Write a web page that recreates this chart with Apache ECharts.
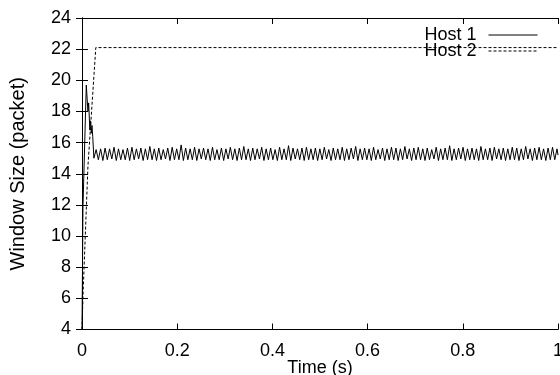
<!DOCTYPE html>
<html>
<head>
<meta charset="utf-8">
<script src="https://cdn.jsdelivr.net/npm/echarts@6/dist/echarts.min.js"></script>
<style>
html,body{margin:0;padding:0;background:#fff;}
#chart{width:560px;height:375px;}
</style>
</head>
<body>
<div id="chart"></div>
<script>
var seriesNames = ['Host 1', 'Host 2'];
var xTickValues = [0, 0.2, 0.4, 0.6, 0.8, 1];
var yTickValues = [4, 6, 8, 10, 12, 14, 16, 18, 20, 22, 24];

// Host 1: start-up transient
var host1StartTimes = [0, 0.002, 0.009, 0.0125, 0.014, 0.0165, 0.018, 0.0195, 0.021, 0.0225];
var host1StartValues = [4, 11.8, 19.7, 18.0, 18.55, 16.8, 17.4, 16.6, 17.1, 16.4];

// Host 1: steady oscillation (trough / peak samples)
var host1OscTimes = [
 0.0250,0.0297,0.0344,0.0391,0.0438,0.0485,0.0532,0.0579,0.0626,0.0673,
 0.0720,0.0767,0.0814,0.0861,0.0908,0.0955,0.1002,0.1049,0.1096,0.1143,
 0.1190,0.1237,0.1284,0.1331,0.1378,0.1425,0.1472,0.1519,0.1566,0.1613,
 0.1660,0.1707,0.1754,0.1801,0.1848,0.1895,0.1942,0.1989,0.2036,0.2083,
 0.2130,0.2177,0.2224,0.2271,0.2318,0.2365,0.2412,0.2459,0.2506,0.2553,
 0.2600,0.2647,0.2694,0.2741,0.2788,0.2835,0.2882,0.2929,0.2976,0.3023,
 0.3070,0.3117,0.3164,0.3211,0.3258,0.3305,0.3352,0.3399,0.3446,0.3493,
 0.3540,0.3587,0.3634,0.3681,0.3728,0.3775,0.3822,0.3869,0.3916,0.3963,
 0.4010,0.4057,0.4104,0.4151,0.4198,0.4245,0.4292,0.4339,0.4386,0.4433,
 0.4480,0.4527,0.4574,0.4621,0.4668,0.4715,0.4762,0.4809,0.4856,0.4903,
 0.4950,0.4997,0.5044,0.5091,0.5138,0.5185,0.5232,0.5279,0.5326,0.5373,
 0.5420,0.5467,0.5514,0.5561,0.5608,0.5655,0.5702,0.5749,0.5796,0.5843,
 0.5890,0.5937,0.5984,0.6031,0.6078,0.6125,0.6172,0.6219,0.6266,0.6313,
 0.6360,0.6407,0.6454,0.6501,0.6548,0.6595,0.6642,0.6689,0.6736,0.6783,
 0.6830,0.6877,0.6924,0.6971,0.7018,0.7065,0.7112,0.7159,0.7206,0.7253,
 0.7300,0.7347,0.7394,0.7441,0.7488,0.7535,0.7582,0.7629,0.7676,0.7723,
 0.7770,0.7817,0.7864,0.7911,0.7958,0.8005,0.8052,0.8099,0.8146,0.8193,
 0.8240,0.8287,0.8334,0.8381,0.8428,0.8475,0.8522,0.8569,0.8616,0.8663,
 0.8710,0.8757,0.8804,0.8851,0.8898,0.8945,0.8992,0.9039,0.9086,0.9133,
 0.9180,0.9227,0.9274,0.9321,0.9368,0.9415,0.9462,0.9509,0.9556,0.9603,
 0.9650,0.9697,0.9744,0.9791,0.9838,0.9885,0.9932,0.9979,1.0000
];
var host1OscValues = [
 15.0,15.55,14.9,15.6,14.85,15.65,14.9,15.6,14.95,15.7,
 14.85,15.6,14.9,15.55,14.9,15.65,14.85,15.7,14.9,15.6,
 14.95,15.65,14.85,15.6,14.9,15.75,14.9,15.6,14.85,15.65,
 14.9,15.55,14.95,15.65,14.85,15.7,14.9,15.6,14.9,15.85,
 14.85,15.65,14.9,15.6,14.9,15.7,14.85,15.6,14.95,15.65,
 14.9,15.6,14.85,15.7,14.9,15.55,14.9,15.65,14.85,15.6,
 14.95,15.7,14.9,15.6,14.85,15.65,14.9,15.75,14.9,15.6,
 14.85,15.65,14.9,15.6,14.95,15.7,14.85,15.6,14.9,15.65,
 14.9,15.55,14.85,15.7,14.9,15.6,14.9,15.8,14.85,15.65,
 14.95,15.6,14.9,15.65,14.85,15.7,14.9,15.6,14.9,15.65,
 14.85,15.6,14.9,15.7,14.95,15.55,14.85,15.65,14.9,15.6,
 14.9,15.7,14.85,15.6,14.9,15.65,14.95,15.75,14.85,15.6,
 14.9,15.65,14.9,15.6,14.85,15.7,14.9,15.55,14.95,15.65,
 14.85,15.6,14.9,15.7,14.9,15.65,14.85,15.6,14.9,15.75,
 14.95,15.6,14.85,15.65,14.9,15.7,14.9,15.6,14.85,15.65,
 14.9,15.55,14.95,15.7,14.85,15.6,14.9,15.65,14.9,15.8,
 14.85,15.6,14.9,15.65,14.95,15.7,14.85,15.6,14.9,15.65,
 14.9,15.6,14.85,15.75,14.9,15.6,14.9,15.65,14.85,15.7,
 14.95,15.6,14.9,15.65,14.85,15.6,14.9,15.7,14.9,15.65,
 14.85,15.6,14.9,15.75,14.95,15.6,14.85,15.65,14.9,15.7,
 14.9,15.6,14.85,15.65,14.9,15.7,14.9,15.6,15.2
];

// Host 2
var host2Times = [0, 0.0025, 0.0125, 0.029, 1.0];
var host2Values = [4, 6.5, 14.5, 22.1, 22.1];

function pairs(ts, vs) {
  var out = [];
  for (var i = 0; i < ts.length; i++) out.push([ts[i], vs[i]]);
  return out;
}
var host1Data = pairs(host1StartTimes, host1StartValues).concat(pairs(host1OscTimes, host1OscValues));
var host2Data = pairs(host2Times, host2Values);

var FONT = 'Liberation Sans, Arial, Helvetica, sans-serif';
var axisLineStyle = { lineStyle: { color: '#000', width: 1 } };

var chart = echarts.init(document.getElementById('chart'), null, { renderer: 'canvas' });
chart.setOption({
  animation: false,
  backgroundColor: '#fff',
  grid: { left: 82, right: 2, top: 18, bottom: 45.5, containLabel: false, outerBoundsMode: 'none' },
  legend: {
    orient: 'vertical',
    align: 'right',
    right: 22,
    top: 26,
    itemWidth: 49,
    itemHeight: 14,
    itemGap: -2,
    padding: 0,
    icon: 'inherit',
    itemStyle: { opacity: 0 },
    lineStyle: { width: 1 },
    data: seriesNames,
    textStyle: { fontFamily: FONT, fontSize: 18, color: '#000', lineHeight: 15, padding: [0, 7, 0, 0] }
  },
  xAxis: [{
    type: 'value',
    min: xTickValues[0],
    max: xTickValues[xTickValues.length - 1],
    interval: 0.2,
    name: 'Time (s)',
    nameLocation: 'middle',
    nameGap: 30,
    nameMoveOverlap: false,
    nameTextStyle: { fontFamily: FONT, fontSize: 18, color: '#000' },
    axisLine: axisLineStyle,
    axisTick: { inside: true, length: 6, lineStyle: { color: '#000' } },
    axisLabel: { fontFamily: FONT, fontSize: 18, color: '#000', margin: 13, showMaxLabel: true,
      formatter: function (v) { return String(v); } },
    splitLine: { show: false }
  }, {
    type: 'value',
    position: 'top',
    min: xTickValues[0],
    max: xTickValues[xTickValues.length - 1],
    interval: 0.2,
    axisLine: axisLineStyle,
    axisTick: { inside: true, length: 6, lineStyle: { color: '#000' } },
    axisLabel: { show: false },
    splitLine: { show: false }
  }],
  yAxis: [{
    type: 'value',
    min: yTickValues[0],
    max: yTickValues[yTickValues.length - 1],
    interval: 2,
    name: 'Window Size (packet)',
    nameLocation: 'middle',
    nameGap: 54,
    nameMoveOverlap: false,
    nameTextStyle: { fontFamily: FONT, fontSize: 20, color: '#000' },
    axisLine: { show: true, lineStyle: { color: '#000', width: 1 } },
    axisTick: { show: true, inside: true, length: 6, lineStyle: { color: '#000' } },
    axisLabel: { fontFamily: FONT, fontSize: 18, color: '#000', margin: 11 },
    splitLine: { show: false }
  }, {
    type: 'value',
    position: 'right',
    min: yTickValues[0],
    max: yTickValues[yTickValues.length - 1],
    interval: 2,
    axisLine: { show: true, lineStyle: { color: '#000', width: 1 } },
    axisTick: { show: true, inside: true, length: 6, lineStyle: { color: '#000' } },
    axisLabel: { show: false },
    splitLine: { show: false }
  }],
  series: [{
    name: seriesNames[0],
    type: 'line',
    data: host1Data,
    symbol: 'none',
    sampling: null,
    lineStyle: { color: '#000', width: 1, type: 'solid' },
    itemStyle: { color: '#000' }
  }, {
    name: seriesNames[1],
    type: 'line',
    data: host2Data,
    symbol: 'none',
    lineStyle: { color: '#000', width: 1, type: [3, 2] },
    itemStyle: { color: '#000' }
  }]
});
</script>
</body>
</html>
